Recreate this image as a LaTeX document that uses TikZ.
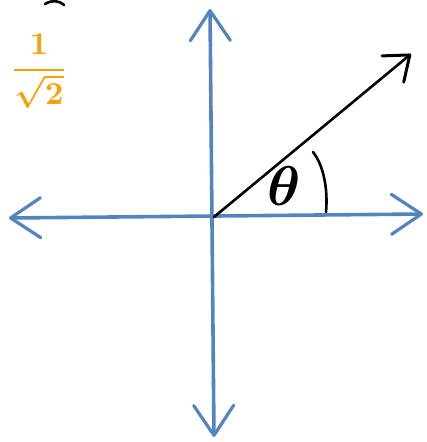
\documentclass[tikz,border=0pt]{standalone}
\usepackage{amsmath}
\usepackage{graphicx}
\usetikzlibrary{arrows.meta}
\definecolor{axisblue}{RGB}{84,132,192}
\definecolor{amber}{RGB}{245,162,10}

\begin{document}
\begin{tikzpicture}[x=1pt,y=-1pt,
    axis/.style={draw=axisblue,line width=3.6pt,line cap=round,
      arrows={Straight Barb[length=30pt,width=40pt,line width=3.2pt,round]-Straight Barb[length=30pt,width=40pt,line width=3.2pt,round]}},
    vec/.style={draw=black,line width=2.6pt,line cap=round,
      -{Straight Barb[length=22pt,width=34pt,line width=3pt,round]}},
    hand/.style={draw=black,line width=2.6pt,line cap=round}]
    \useasboundingbox (0,0) rectangle (427,442);
    \coordinate (O) at (214,217);
    \coordinate (xl) at (9,218); \coordinate (xr) at (423,214);
    \coordinate (yt) at (210,9); \coordinate (yb) at (214,437);
    \coordinate (tip) at (411,54);
    \coordinate (arcA) at (313,152); \coordinate (arcB) at (326,212);
    \draw[axis] (xl) -- (xr);
    \draw[axis] (yb) -- (yt);
    \draw[vec] (O) -- (tip);
    \draw[hand] (arcA) .. controls (324,166) and (328,190) .. (arcB);
    \node (th) at (284,186) {\scalebox{5.6}{\boldmath$\theta$}};
    \node[text=amber] (half) at (39,71) {\scalebox{3.2}{\boldmath$\displaystyle\frac{1}{\sqrt{2}}$}};
    \draw[hand] (45,4) .. controls (52,0) and (58,0) .. (64,5);
\end{tikzpicture}
\end{document}
